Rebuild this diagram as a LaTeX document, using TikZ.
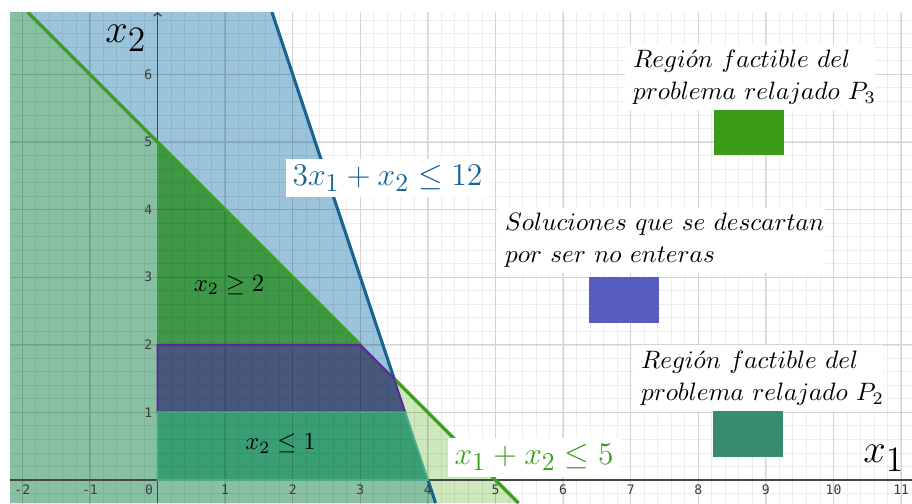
\RequirePackage{fix-cm}
\documentclass[tikz,border=0pt]{standalone}
\usepackage{fontspec}
\newfontfamily\tickfont{DejaVu Sans Mono}
\usetikzlibrary{arrows.meta}
\DeclareMathSizes{17}{17}{15}{12}
\DeclareMathSizes{13.3}{13.3}{10.8}{8}
\definecolor{bluefill}{RGB}{155,195,218}
\definecolor{greenfill}{RGB}{206,232,190}
\definecolor{tealfill}{RGB}{136,192,164}
\definecolor{pthreefill}{RGB}{62,152,72}
\definecolor{discfill}{RGB}{72,88,125}
\definecolor{ptwofill}{RGB}{58,158,116}
\definecolor{blueline}{RGB}{22,100,150}
\definecolor{greenline}{RGB}{60,160,30}
\definecolor{purpleedge}{RGB}{90,40,150}
\definecolor{ptwoedge}{RGB}{75,172,140}
\definecolor{legthree}{RGB}{60,155,25}
\definecolor{legdisc}{RGB}{88,92,190}
\definecolor{legtwo}{RGB}{55,140,110}
\definecolor{axisgray}{RGB}{70,70,70}
\definecolor{ticktext}{RGB}{60,60,60}
\tikzset{
  gridminor/.style={black, opacity=0.07, line width=0.4pt},
  gridmajor/.style={black, opacity=0.10, line width=0.6pt},
  bline/.style={blueline, line width=1.3pt},
  gline/.style={greenline, line width=1.45pt},
  axisline/.style={axisgray, line width=0.6pt},
  ticklabel/.style={font=\tickfont\fontsize{5.5}{6}\selectfont, text=ticktext, inner sep=0pt},
  legbox/.style={fill=white, inner xsep=3.4pt, inner ysep=0pt, align=left, font=\fontsize{10.6}{13.6}\selectfont},
  eqbox/.style={fill=white, inner sep=0pt, font=\fontsize{13.3}{16}\selectfont},
  inlabel/.style={inner sep=0pt, font=\fontsize{10.4}{12}\selectfont},
  axlabel/.style={inner sep=0pt, anchor=base west, font=\fontsize{17}{20}\selectfont},
}
\begin{document}
\begin{tikzpicture}
\useasboundingbox (-2.330,-0.340) rectangle (11.161,7.101);
\fill[white] (-2.330,-0.340) rectangle (11.161,7.101);
\coordinate (BL) at (-2.182,-0.340);
\coordinate (TL) at (-2.182,6.923);
\coordinate (btop) at (1.692,6.923);
\coordinate (bbot) at (4.113,-0.340);
\coordinate (gtop) at (-1.923,6.923);
\coordinate (gbot) at (5.340,-0.340);
\coordinate (X) at (3.5,1.5);
\coordinate (O) at (0,0);
\coordinate (A4) at (4,0);
\coordinate (B1) at (11/3,1);
\coordinate (Y1) at (0,1);
\coordinate (Y2) at (0,2);
\coordinate (C2) at (3,2);
\coordinate (Y5) at (0,5);
\begin{scope}
  \clip (-2.182,-0.340) rectangle (11.161,6.923);
  \fill[bluefill] (BL) -- (TL) -- (btop) -- (bbot) -- cycle;
  \fill[greenfill] (BL) -- (TL) -- (gtop) -- (gbot) -- cycle;
  \fill[tealfill] (BL) -- (TL) -- (gtop) -- (X) -- (bbot) -- cycle;
  \fill[pthreefill] (Y2) -- (C2) -- (Y5) -- cycle;
  \fill[discfill] (Y1) -- (B1) -- (X) -- (C2) -- (Y2) -- cycle;
  \fill[ptwofill] (O) -- (A4) -- (B1) -- (Y1) -- cycle;
  \draw[gridminor, step=0.2] (-2.4,-0.4) grid (11.4,7.0);
  \draw[gridmajor, step=1] (-2.4,-0.4) grid (11.4,7.0);
\end{scope}
\coordinate (xl) at (-2.182,0);
\coordinate (xr) at (11.161,0);
\coordinate (yb) at (0,-0.340);
\coordinate (yt) at (0,6.923);
\draw[axisline] (xl) -- (xr);
\draw[axisline, -{Straight Barb[length=1.3pt,width=3.2pt]}] (yb) -- (yt);
\begin{scope}
  \clip (-2.182,-0.340) rectangle (11.161,6.923);
  \draw[bline] (btop) -- (X);
  \draw[bline] (A4) -- (bbot);
  \draw[gline] (gtop) -- (C2);
  \draw[gline] (X) -- (gbot);
\end{scope}
\draw[greenline, line width=0.8pt] (Y2) -- (Y5);
\draw[purpleedge, line width=0.8pt] (Y1) -- (B1) -- (X) -- (C2) -- (Y2) -- cycle;
\draw[ptwoedge, line width=0.8pt] (O) -- (A4) -- (B1) -- (Y1) -- cycle;
% tick labels
\foreach \i [count=\k] in {-2,-1,1,2,3,4,5,6,7,8,9,10,11}
  \node[ticklabel] (tx\k) at (\i,-0.148) {\i};
\node[ticklabel] (tzero) at (-0.125,-0.148) {0};
\foreach \j in {1,2,3,4,5,6}
  \node[ticklabel] (ty\j) at (-0.135,\j) {\j};
% axis labels
\node[axlabel] (lx2) at (-0.777,6.479) {$x_2$};
\node[axlabel] (lx1) at (10.436,0.266) {$x_1$};
% constraint labels
\node[eqbox, text=blueline, minimum width=3.0cm, minimum height=0.562cm] (eqb) at (3.402,4.467) {$3x_1+x_2\le 12$};
\node[eqbox, text=greenline, minimum width=2.544cm, minimum height=0.577cm] (eqg) at (5.570,0.333) {$x_1+x_2\le 5$};
\node[inlabel] (lge) at (1.058,2.885) {$x_2\ge 2$};
\node[inlabel] (lle) at (1.820,0.540) {$x_2\le 1$};
% legend
\node[legbox, text width=3.698cm-6.8pt, minimum height=0.962cm] (leg3) at (8.765,5.954)
  {$Regi\acute{o}n\ factible\ del$\\$problema\ relajado\ P_3$};
\fill[legthree] (8.232,4.808) rectangle (9.268,5.473);
\node[legbox, text width=4.852cm-6.8pt, minimum height=0.962cm] (legd) at (7.448,3.543)
  {$Soluciones\ que\ se\ descartan$\\$por\ ser\ no\ enteras$};
\fill[legdisc] (6.383,2.322) rectangle (7.419,3.003);
\node[legbox, text width=3.698cm-6.8pt, minimum height=0.976cm] (leg2) at (8.883,1.509)
  {$Regi\acute{o}n\ factible\ del$\\$problema\ relajado\ P_2$};
\fill[legtwo] (8.217,0.340) rectangle (9.253,1.021);
\end{tikzpicture}
\end{document}
